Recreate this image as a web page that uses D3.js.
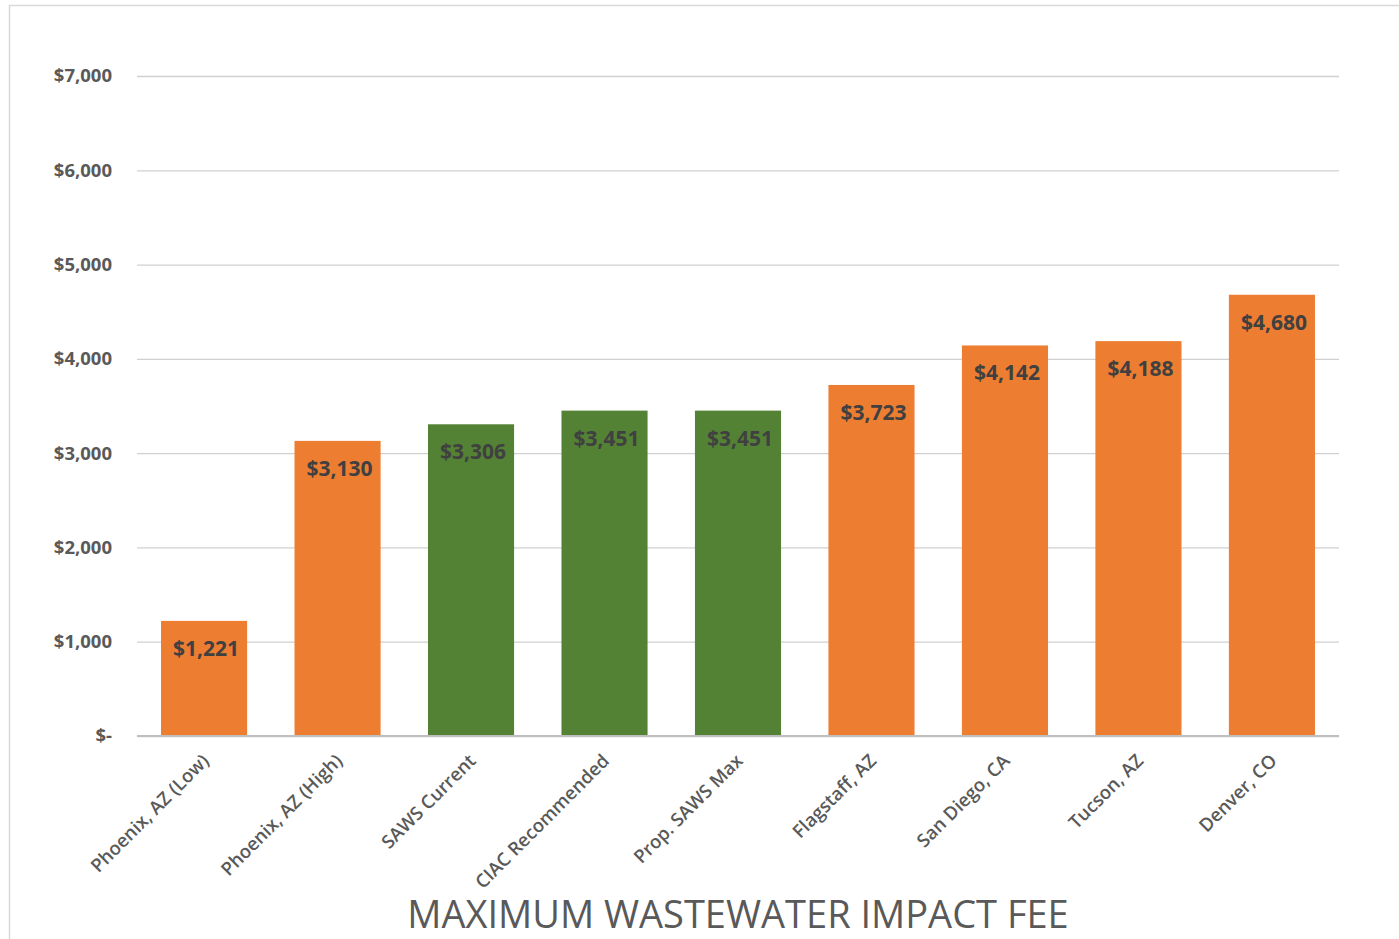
<!DOCTYPE html>
<html>
<head>
<meta charset="utf-8">
<script src="https://cdn.jsdelivr.net/npm/d3@7"></script>
<style>
  html, body { margin: 0; padding: 0; background: #fff; }
  svg { display: block; }
  text { font-family: "Open Sans", "Liberation Sans", sans-serif; }
</style>
</head>
<body>
<svg id="chart" width="1399" height="939"></svg>
<script>
// values
const categories = ["Phoenix, AZ (Low)", "Phoenix, AZ (High)", "SAWS Current", "CIAC Recommended",
  "Prop. SAWS Max", "Flagstaff, AZ", "San Diego, CA", "Tucson, AZ", "Denver, CO"];
const fees = [1221, 3130, 3306, 3451, 3451, 3723, 4142, 4188, 4680];
const groups = ["peer", "peer", "saws", "saws", "saws", "peer", "peer", "peer", "peer"];
const yTicks = [0, 1000, 2000, 3000, 4000, 5000, 6000, 7000];
const title = "MAXIMUM WASTEWATER IMPACT FEE";

const colors = { peer: "#ed7d31", saws: "#548235" };

const W = 1399, H = 939;
const plot = { left: 137, right: 1339, top: 76, bottom: 736 };

const svg = d3.select("#chart");

// chart frame
svg.append("rect")
  .attr("x", 9.5).attr("y", 5.5)
  .attr("width", W + 20).attr("height", H + 20)
  .attr("fill", "none").attr("stroke", "#d9d9d9").attr("stroke-width", 1.5);

const x = d3.scaleBand().domain(categories).range([plot.left, plot.right]).paddingInner(0.355).paddingOuter(0.18);
const y = d3.scaleLinear().domain([0, 7000]).range([plot.bottom, plot.top]);

const fmtMoney = v => v === 0 ? "$-" : "$" + d3.format(",")(v);

// gridlines + y labels
const yAxis = d3.axisLeft(y).tickValues(yTicks).tickSize(-(plot.right - plot.left)).tickFormat(fmtMoney).tickPadding(25);
const gy = svg.append("g").attr("transform", `translate(${plot.left},0)`).call(yAxis);
gy.select(".domain").remove();
gy.selectAll(".tick line").attr("stroke", "#d0d0d0").attr("stroke-width", 1.3);
gy.selectAll(".tick text")
  .attr("fill", "#595959").attr("font-size", 18.5).attr("font-weight", 700)
  .style("font-family", "'Open Sans', sans-serif");

// bars
svg.append("g").selectAll("rect").data(categories).join("rect")
  .attr("x", d => x(d))
  .attr("y", (d, i) => y(fees[i]))
  .attr("width", x.bandwidth())
  .attr("height", (d, i) => y(0) - y(fees[i]))
  .attr("fill", (d, i) => colors[groups[i]]);

// x axis baseline
svg.append("line")
  .attr("x1", plot.left).attr("x2", plot.right)
  .attr("y1", y(0)).attr("y2", y(0))
  .attr("stroke", "#bfbfbf").attr("stroke-width", 2);

// data labels inside end
svg.append("g").selectAll("text").data(categories).join("text")
  .attr("x", d => x(d) + x.bandwidth() / 2 + 2)
  .attr("y", (d, i) => y(fees[i]) + 35)
  .attr("text-anchor", "middle")
  .attr("fill", "#404040").attr("font-size", 21).attr("font-weight", 700)
  .text((d, i) => fmtMoney(fees[i]));

// category labels rotated
svg.append("g").selectAll("text").data(categories).join("text")
  .attr("transform", d => `translate(${x(d) + x.bandwidth() / 2 + 6},${y(0) + 26}) rotate(-45)`)
  .attr("text-anchor", "end")
  .attr("fill", "#595959").attr("font-size", 18.5).attr("font-weight", 600)
  .text(d => d);

// title
svg.append("text")
  .attr("x", 738).attr("y", 928)
  .attr("text-anchor", "middle")
  .attr("fill", "#595959").attr("font-size", 38)
  .text(title);
</script>
</body>
</html>
